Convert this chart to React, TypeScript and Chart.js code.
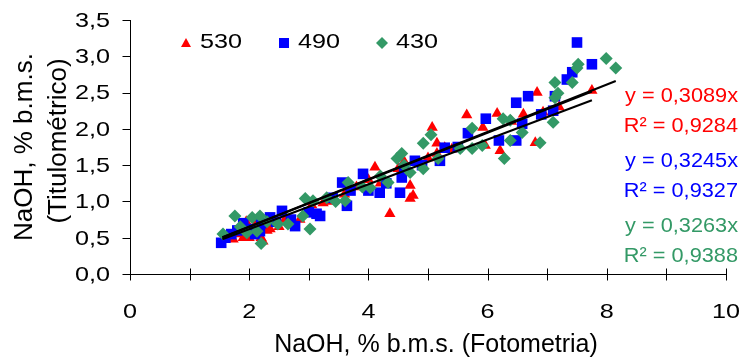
import React, { useEffect, useRef } from 'react';
import { Chart, registerables } from 'chart.js';

Chart.register(...registerables);

// NaOH (Fotometria) vs NaOH (Titulométrico), three wavelengths
const series530: [number, number][] = [
  [1.73, 0.48], [1.8, 0.55], [1.85, 0.6], [1.9, 0.5], [2.0, 0.5], [2.05, 0.55], [2.2, 0.5], [2.23, 0.45],
  [2.3, 0.6], [2.35, 0.62], [2.4, 0.7], [2.5, 0.65], [2.1, 0.68], [1.95, 0.72], [2.6, 0.75], [2.85, 0.75],
  [3.05, 0.95], [3.24, 0.98], [3.36, 1.0], [3.6, 1.1], [3.8, 1.2], [4.0, 1.3], [4.11, 1.47], [4.2, 1.25],
  [4.36, 0.83], [4.5, 1.45], [4.7, 1.22], [4.7, 1.04], [4.75, 1.08], [4.6, 1.55], [5.0, 1.6], [5.07, 2.02],
  [5.15, 1.8], [5.15, 1.66], [5.28, 1.74], [5.4, 1.72], [5.65, 2.19], [5.92, 2.02], [5.96, 1.77], [6.21, 1.7],
  [6.16, 2.21], [6.4, 2.1], [6.6, 2.2], [6.83, 2.5], [6.8, 1.81], [6.93, 2.23], [7.2, 2.3], [7.75, 2.53],
];

const series490: [number, number][] = [
  [1.53, 0.43], [1.6, 0.5], [1.7, 0.55], [1.8, 0.6], [1.9, 0.7], [2.0, 0.62], [2.1, 0.55], [2.18, 0.59],
  [2.2, 0.7], [2.35, 0.78], [2.45, 0.72], [2.55, 0.87], [2.7, 0.75], [2.77, 0.66], [3.0, 0.85], [3.13, 0.83],
  [3.19, 0.8], [3.4, 1.05], [3.56, 1.26], [3.64, 0.94], [3.7, 1.15], [3.91, 1.38], [4.0, 1.15], [4.19, 1.12],
  [4.3, 1.25], [4.53, 1.12], [4.56, 1.33], [4.6, 1.45], [4.78, 1.56], [4.9, 1.5], [5.2, 1.56], [5.28, 1.74],
  [5.5, 1.75], [5.67, 1.94], [5.97, 2.14], [6.19, 1.84], [6.48, 1.84], [6.48, 2.36], [6.58, 2.07], [6.68, 2.45],
  [6.9, 2.2], [7.1, 2.25], [7.13, 2.45], [7.33, 2.68], [7.42, 2.78], [7.5, 3.19], [7.75, 2.89],
];

const series430: [number, number][] = [
  [1.56, 0.55], [1.76, 0.8], [1.85, 0.65], [1.96, 0.57], [2.05, 0.78], [2.13, 0.59], [2.18, 0.8], [2.2, 0.42],
  [2.3, 0.72], [2.48, 0.69], [2.65, 0.69], [2.9, 0.8], [2.94, 1.04], [3.02, 0.62], [3.07, 1.01], [3.3, 1.05],
  [3.45, 1.0], [3.61, 1.01], [3.66, 1.26], [3.9, 1.2], [4.03, 1.19], [4.2, 1.35], [4.33, 1.26], [4.48, 1.59],
  [4.56, 1.66], [4.6, 1.5], [4.7, 1.4], [4.92, 1.45], [4.92, 1.8], [5.05, 1.92], [5.17, 1.59], [5.54, 1.73],
  [5.74, 1.73], [5.74, 2.01], [5.91, 1.77], [6.26, 2.14], [6.28, 1.59], [6.38, 1.84], [6.38, 2.12], [6.58, 1.95],
  [6.88, 1.81], [7.1, 2.09], [7.13, 2.43], [7.18, 2.49], [7.13, 2.64], [7.42, 2.64], [7.5, 2.84], [7.52, 2.89],
  [7.99, 2.97], [8.15, 2.84],
];

const seriesNames = ['530', '490', '430'];
const seriesColors = ['#ff0000', '#0000ff', '#339966'];
const slopes = [0.3089, 0.3245, 0.3263];
const r2Values = ['0,9284', '0,9327', '0,9388'];
const slopeLabels = ['0,3089', '0,3245', '0,3263'];
const lineStartX = [1.55, 1.55, 1.55];
const lineEndX = [7.75, 7.75, 8.15];
const xTicks = [0, 2, 4, 6, 8, 10];
const xMinorTicks = [1, 3, 5, 7, 9];
const yTicks = [0, 0.5, 1, 1.5, 2, 2.5, 3, 3.5];

const FONT = "'Liberation Sans', Arial, sans-serif";

function stretchText(
  ctx: CanvasRenderingContext2D,
  text: string,
  x: number,
  y: number,
  align: CanvasTextAlign,
  sx: number,
) {
  ctx.save();
  ctx.translate(x, y);
  ctx.scale(sx, 1);
  ctx.textAlign = align;
  ctx.fillText(text, 0, 0);
  ctx.restore();
}

const overlay = {
  id: 'overlay',
  afterDraw(chart: any) {
    const ctx = chart.ctx as CanvasRenderingContext2D;
    const xs = chart.scales.x;
    const ys = chart.scales.y;
    const area = chart.chartArea;
    ctx.save();
    ctx.strokeStyle = '#000';
    ctx.lineWidth = 1;
    const yb = Math.round(ys.getPixelForValue(0)) + 0.5;
    const xl = Math.round(xs.getPixelForValue(0)) + 0.5;
    // x ticks crossing the axis
    [...xTicks, ...xMinorTicks].forEach((v) => {
      const px = Math.round(xs.getPixelForValue(v)) + 0.5;
      ctx.beginPath();
      ctx.moveTo(px, yb - 6);
      ctx.lineTo(px, yb + 6);
      ctx.stroke();
    });
    // y ticks outside
    yTicks.forEach((v) => {
      const py = Math.round(ys.getPixelForValue(v)) + 0.5;
      ctx.beginPath();
      ctx.moveTo(xl - 8, py);
      ctx.lineTo(xl, py);
      ctx.stroke();
    });
    // tick labels
    ctx.fillStyle = '#000';
    ctx.font = `21px ${FONT}`;
    ctx.textBaseline = 'middle';
    yTicks.forEach((v) => {
      const py = ys.getPixelForValue(v);
      stretchText(ctx, v.toFixed(1).replace('.', ','), 110, py + 1, 'right', 1.2);
    });
    xTicks.forEach((v) => {
      const px = xs.getPixelForValue(v);
      stretchText(ctx, String(v), px, 312, 'center', 1.2);
    });
    // legend
    const ly = 43;
    const lx = [186, 284, 382];
    lx.forEach((x, i) => {
      ctx.fillStyle = seriesColors[i];
      ctx.beginPath();
      if (i === 0) {
        ctx.moveTo(x, ly - 5);
        ctx.lineTo(x + 5, ly + 4);
        ctx.lineTo(x - 5, ly + 4);
      } else if (i === 1) {
        ctx.rect(x - 5, ly - 5, 10, 10);
      } else {
        ctx.moveTo(x, ly - 6);
        ctx.lineTo(x + 6, ly);
        ctx.lineTo(x, ly + 6);
        ctx.lineTo(x - 6, ly);
      }
      ctx.closePath();
      ctx.fill();
      ctx.fillStyle = '#000';
      stretchText(ctx, seriesNames[i], x + 14, ly - 1, 'left', 1.2);
    });
    // equations
    ctx.font = `20.5px ${FONT}`;
    const ex = 738;
    const eqY = [95, 160, 225];
    eqY.forEach((y, i) => {
      ctx.fillStyle = seriesColors[i];
      stretchText(ctx, `y = ${slopeLabels[i]}x`, ex, y + 1, 'right', 1.06);
      stretchText(ctx, `R² = ${r2Values[i]}`, ex, y + 31, 'right', 1.06);
    });
    // axis titles
    ctx.fillStyle = '#000';
    ctx.font = `25px ${FONT}`;
    ctx.textAlign = 'center';
    ctx.fillText('NaOH, % b.m.s. (Fotometria)', 436, 345);
    ctx.font = `26px ${FONT}`;
    ctx.save();
    ctx.translate(25, 147);
    ctx.rotate(-Math.PI / 2);
    ctx.fillText('NaOH, % b.m.s.', 0, 0);
    ctx.restore();
    ctx.save();
    ctx.translate(59, 141);
    ctx.rotate(-Math.PI / 2);
    ctx.fillText('(Titulométrico)', 0, 0);
    ctx.restore();
    ctx.restore();
  },
};

export default function App() {
  const ref = useRef<HTMLCanvasElement | null>(null);
  useEffect(() => {
    document.body.style.margin = '0';
    const canvas = ref.current;
    if (!canvas) return;
    const lineSets = slopes.map((m, i) => ({
      label: `fit ${seriesNames[i]}`,
      data: [
        { x: lineStartX[i], y: m * lineStartX[i] },
        { x: lineEndX[i], y: m * lineEndX[i] },
      ],
      showLine: true,
      borderColor: '#000',
      borderWidth: 2,
      pointRadius: 0,
      fill: false,
    }));
    const toPts = (s: [number, number][]) => s.map(([x, y]) => ({ x, y }));
    const chart = new Chart(canvas, {
      type: 'scatter',
      data: {
        datasets: [
          ...lineSets,
          {
            label: seriesNames[2],
            data: toPts(series430),
            pointStyle: 'rectRot',
            pointRadius: 6.5,
            backgroundColor: seriesColors[2],
            borderColor: seriesColors[2],
            borderWidth: 0,
          },
          {
            label: seriesNames[1],
            data: toPts(series490),
            pointStyle: 'rect',
            pointRadius: 7.5,
            backgroundColor: seriesColors[1],
            borderColor: seriesColors[1],
            borderWidth: 0,
          },
          {
            label: seriesNames[0],
            data: toPts(series530),
            pointStyle: 'triangle',
            pointRadius: 6.5,
            backgroundColor: seriesColors[0],
            borderColor: seriesColors[0],
            borderWidth: 0,
          },
        ],
      },
      options: {
        animation: false,
        responsive: false,
        events: [],
        layout: { padding: { top: 20, right: 16, left: 0, bottom: 0 } },
        plugins: { legend: { display: false }, tooltip: { enabled: false } },
        scales: {
          x: {
            type: 'linear',
            min: 0,
            max: 10,
            afterFit: (scale: any) => {
              scale.height = 86;
            },
            ticks: { display: false, stepSize: 2 },
            grid: { display: false },
            border: { display: true, color: '#000', width: 1 },
          },
          y: {
            type: 'linear',
            min: 0,
            max: 3.5,
            afterFit: (scale: any) => {
              scale.width = 130;
            },
            ticks: { display: false, stepSize: 0.5 },
            grid: { display: false },
            border: { display: true, color: '#000', width: 1 },
          },
        },
      },
      plugins: [overlay],
    });
    return () => chart.destroy();
  }, []);
  return (
    <canvas
      ref={ref}
      width={742}
      height={360}
      style={{ display: 'block', width: 742, height: 360 }}
    />
  );
}
